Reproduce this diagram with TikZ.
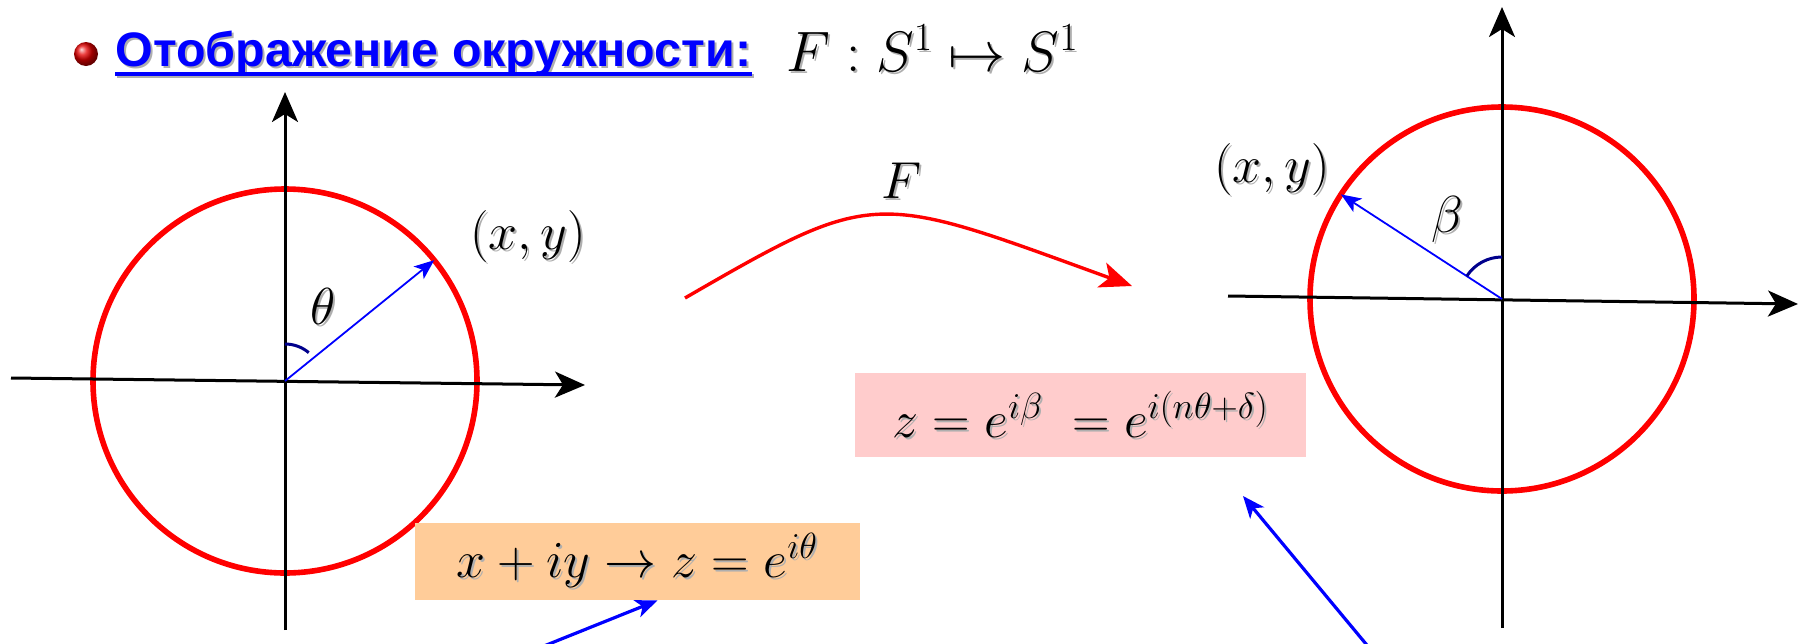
\RequirePackage{fix-cm}
\documentclass[tikz,border=0pt]{standalone}
\usepackage{fontspec}
\newfontfamily\ttlfont{Liberation Sans}
\usetikzlibrary{arrows.meta,shadings}
\definecolor{navy}{RGB}{0,0,140}
\definecolor{boxorange}{RGB}{255,204,153}
\definecolor{boxpink}{RGB}{255,204,204}
\definecolor{shgray}{RGB}{175,175,175}
\newcommand\shtxt[1]{\makebox[0pt][l]{\hspace{1pt}\raisebox{-1pt}{\color{shgray}#1}}#1}
\tikzset{
  axisline/.style={line width=1.5pt,-{Stealth[length=15pt,width=13pt,inset=4pt]}},
  redcirc/.style={circle,draw=red,line width=2.8pt,minimum size=192pt,inner sep=0pt,outer sep=0pt},
  radvec/.style={blue,line width=0.9pt,-{Stealth[length=10pt,width=8pt,inset=2.5pt]}},
  anglemark/.style={navy,line width=1.5pt},
  lbl/.style={font=\fontsize{26}{31}\selectfont,inner sep=0pt},
  eqbox/.style={font=\fontsize{26}{31}\selectfont,inner sep=0pt},
  pointer/.style={blue,line width=1.6pt,-{Stealth[length=11pt,width=9pt,inset=3pt]}},
  maparrow/.style={red,line width=1.7pt,-{Stealth[length=16pt,width=13pt,inset=4pt]}},
}
\begin{document}
\begin{tikzpicture}[x=0.5pt,y=0.5pt]
\useasboundingbox (0,0) rectangle (1800,-643);
% title
\node[circle,shading=ball,ball color=red!90!black,minimum size=12pt,inner sep=0pt] (bullet) at (86,-54) {};
\node[anchor=base west,text=blue,font=\ttlfont\bfseries\fontsize{24.2}{29}\selectfont,inner sep=0pt] (ttl) at (115,-66) {\shtxt{Отображение окружности:}};
\draw[shgray,line width=1.8pt] ([xshift=1pt,yshift=-5pt]ttl.base west) -- ([xshift=1pt,yshift=-5pt]ttl.base east);
\draw[blue,line width=1.8pt] ([yshift=-4pt]ttl.base west) -- ([yshift=-4pt]ttl.base east);
\node[anchor=base west,font=\fontsize{28.5}{34}\selectfont,inner sep=0pt] (ttlm) at (786,-71) {\shtxt{$F:S^1\mapsto S^1$}};
% left circle
\node[redcirc] (c1) at (285,-381) {};
\coordinate (h1a) at (11,-378);
\coordinate (h1b) at (585,-385);
\coordinate (v1a) at (285,-630);
\coordinate (v1b) at (285,-92);
\draw[axisline] (h1a) -- (h1b);
\draw[axisline] (v1a) -- (v1b);
\draw[radvec] (c1.center) -- (c1.39.5);
\draw[anglemark] ([yshift=18.5pt]c1.center) arc[start angle=90,end angle=50,radius=18.5pt];
\node[lbl] (xy1) at (528,-237) {\shtxt{$(x,y)$}};
\node[lbl] (th) at (323,-307) {\shtxt{$\theta$}};
% right circle
\node[redcirc] (c2) at (1502,-299) {};
\coordinate (h2a) at (1228,-296);
\coordinate (h2b) at (1798,-304);
\coordinate (v2a) at (1502,-628);
\coordinate (v2b) at (1502,-7);
\draw[axisline] (h2a) -- (h2b);
\draw[axisline] (v2a) -- (v2b);
\draw[radvec] (c2.center) -- (c2.147);
\draw[anglemark] ([yshift=21pt]c2.center) arc[start angle=90,end angle=147,radius=21pt];
\node[lbl] (xy2) at (1272,-170) {\shtxt{$(x,y)$}};
\node[lbl] (be) at (1447,-220) {\shtxt{$\beta$}};
% map arrow
\coordinate (fs) at (685,-298);
\coordinate (fe) at (1132,-286);
\draw[maparrow] (fs) .. controls (877,-187) and (873,-192) .. (fe);
\node[lbl] (Flbl) at (902,-182) {\shtxt{$F$}};
% boxes
\node[eqbox,fill=boxorange,minimum width=222.5pt,minimum height=38.5pt] (obox) at (637.5,-561.5) {\shtxt{$x+iy\to z=e^{i\theta}$}};
\node[eqbox,fill=boxpink,minimum width=225.5pt,minimum height=42pt] (pbox) at (1080.5,-415) {\shtxt{$z=e^{i\beta}\;=e^{i(n\theta+\delta)}$}};
% pointers
\coordinate (s1) at (534,-650);
\draw[pointer] (s1) -- ([xshift=10pt]obox.south);
\coordinate (s2) at (1371,-650);
\coordinate (t2) at (1243,-496);
\draw[pointer] (s2) -- (t2);
\end{tikzpicture}
\end{document}
